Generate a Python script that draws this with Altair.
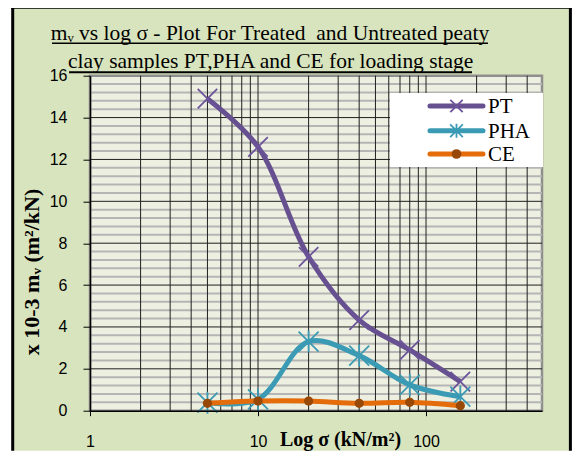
import altair as alt
import pandas as pd

# ---- data ----
stress = [5, 10, 20, 40, 80, 160]
pt_vals = [14.9, 12.6, 7.35, 4.33, 2.9, 1.39]
pha_vals = [0.38, 0.54, 3.3, 2.63, 1.23, 0.67]
ce_vals = [0.35, 0.46, 0.46, 0.35, 0.40, 0.24]

series_names = ["PT", "PHA", "CE"]
line_colors = ["#67508f", "#3b9ab4", "#e46c0a"]
marker_colors = ["#6b549a", "#3b9ab4", "#984807"]
marker_shapes = ["M-1,-1L1,1M-1,1L1,-1",
                 "M-1,-1L1,1M-1,1L1,-1M0,-1.1L0,1.1",
                 "circle"]
marker_sizes = [380, 400, 85]
marker_filled = [False, False, True]

x_ticks = [1, 10, 100]
y_ticks = [0, 2, 4, 6, 8, 10, 12, 14, 16]
x_grid = [2, 3, 4, 5, 6, 7, 8, 9, 10, 20, 30, 40, 50, 60, 70, 80, 90, 100, 200, 300, 400]
y_major_grid = [2, 4, 6, 8, 10, 12, 14]
y_minor_grid = [0.4, 0.8, 1.2, 1.6, 2.4, 2.8, 3.2, 3.6, 4.4, 4.8, 5.2, 5.6, 6.4, 6.8, 7.2, 7.6,
                8.4, 8.8, 9.2, 9.6, 10.4, 10.8, 11.2, 11.6, 12.4, 12.8, 13.2, 13.6,
                14.4, 14.8, 15.2, 15.6]

title_line1 = "mᵥ vs log σ - Plot For Treated\u00a0 and Untreated peaty"
title_line2 = "clay samples PT,PHA and CE for loading stage"
x_title = "Log σ (kN/m²)"
y_title = "x 10-3 mᵥ (m²/kN)"

W, H = 452, 335
PAD = {"left": 82, "top": 67.7, "right": 30, "bottom": 40}
GREEN = "#d8e4bd"
PLOT_BG = "#edf0e1"

xs = alt.Scale(type="log", domain=[1, 490], nice=False)
ys = alt.Scale(domain=[0, 16], nice=False)

x_axis = alt.Axis(values=x_ticks, grid=False, domainColor="black", domainWidth=1.5,
                  tickColor="black", tickSize=5, labelFont="Liberation Sans",
                  labelFontSize=16, labelColor="black", labelPadding=18,
                  labelFlush=False, title=None, zindex=2,
                  labelExpr="datum.value == 1 ? '1' : datum.value == 10 ? '10' : '100'")
y_axis = alt.Axis(values=y_ticks, grid=False, domainColor="black", domainWidth=1.5,
                  tickColor="black", tickSize=7, labelFont="Liberation Sans",
                  labelFontSize=16, labelColor="black", labelPadding=16, title=None,
                  zindex=2)

dummy = pd.DataFrame({"a": [0]})

# background frame (fill + left/top/right borders, kept inside the svg)
L, T = -77.3, -68.4
R = W + PAD["right"] - 1.6
B = H + PAD["bottom"]
frame = alt.Chart(dummy).mark_rect(fill=GREEN).encode(
    x=alt.value(L), x2=alt.value(R), y=alt.value(T), y2=alt.value(B)
)
frame_left = alt.Chart(dummy).mark_rule(color="black", strokeWidth=3).encode(
    x=alt.value(L), y=alt.value(T), y2=alt.value(B))
frame_right = alt.Chart(dummy).mark_rule(color="black", strokeWidth=3).encode(
    x=alt.value(R), y=alt.value(T), y2=alt.value(B))
frame_top = alt.Chart(dummy).mark_rule(color="black", strokeWidth=3).encode(
    x=alt.value(L - 1.5), x2=alt.value(R + 1.5), y=alt.value(T))

plot_bg = alt.Chart(dummy).mark_rect(fill=PLOT_BG, stroke="#8f8f8f", strokeWidth=2.5).encode(
    x=alt.value(0), x2=alt.value(W), y=alt.value(0), y2=alt.value(H)
)

minor_h = alt.Chart(pd.DataFrame({"y": y_minor_grid})).mark_rule(
    color="#b5b5b5", strokeWidth=2
).encode(y=alt.Y("y:Q", scale=ys, axis=y_axis))

vert = alt.Chart(pd.DataFrame({"x": x_grid})).mark_rule(
    color="#1e1e1e", strokeWidth=1
).encode(x=alt.X("x:Q", scale=xs, axis=x_axis))

major_h = alt.Chart(pd.DataFrame({"y": y_major_grid})).mark_rule(
    color="#1e1e1e", strokeWidth=1
).encode(y=alt.Y("y:Q", scale=ys, axis=y_axis))

rows = []
for name, vals in zip(series_names, [pt_vals, pha_vals, ce_vals]):
    for s, v in zip(stress, vals):
        rows.append({"stress": s, "mv": v, "series": name})
df = pd.DataFrame(rows)

layers = [frame, frame_left, frame_right, frame_top, plot_bg, minor_h, vert, major_h]

for name, lc, mc, shp, sz, filled in zip(series_names, line_colors, marker_colors,
                                         marker_shapes, marker_sizes, marker_filled):
    sub = df[df.series == name]
    line = alt.Chart(sub).mark_line(color=lc, strokeWidth=5, interpolate="catmull-rom").encode(
        x=alt.X("stress:Q", scale=xs, axis=x_axis),
        y=alt.Y("mv:Q", scale=ys, axis=y_axis),
    )
    if filled:
        pts = alt.Chart(sub).mark_point(shape=shp, size=sz, filled=True, color=mc, opacity=1)
    else:
        pts = alt.Chart(sub).mark_point(shape=shp, size=sz, filled=False, color=mc,
                                        strokeWidth=1.8, opacity=1)
    pts = pts.encode(x=alt.X("stress:Q", scale=xs, axis=x_axis),
                     y=alt.Y("mv:Q", scale=ys, axis=y_axis))
    layers += [line, pts]

# legend (manual, Excel style)
legend_box = alt.Chart(dummy).mark_rect(fill="white").encode(
    x=alt.value(300), x2=alt.value(453), y=alt.value(17.3), y2=alt.value(91.3)
)
layers.append(legend_box)
row_y = [30.3, 55, 78.3]
for name, lc, mc, shp, sz, filled, ry in zip(series_names, line_colors, marker_colors,
                                             marker_shapes, marker_sizes, marker_filled, row_y):
    layers.append(alt.Chart(dummy).mark_rule(color=lc, strokeWidth=5, strokeCap="round").encode(
        x=alt.value(340), x2=alt.value(393), y=alt.value(ry)))
    if filled:
        m = alt.Chart(dummy).mark_point(shape=shp, size=sz * 1.1, filled=True, color=mc, opacity=1)
    else:
        m = alt.Chart(dummy).mark_point(shape=shp, size=sz * 0.4, filled=False, color=mc,
                                        strokeWidth=1.8, opacity=1)
    layers.append(m.encode(x=alt.value(366.5), y=alt.value(ry)))
    layers.append(alt.Chart(dummy).mark_text(text=name, font="Liberation Serif", fontSize=21,
                                             align="left", baseline="middle", color="black").encode(
        x=alt.value(398), y=alt.value(ry + 1)))

# titles
layers.append(alt.Chart(dummy).mark_text(text=title_line1, font="Liberation Serif", fontSize=21.5,
                                         align="center", baseline="alphabetic", color="black").encode(
    x=alt.value(180), y=alt.value(-35.7)))
layers.append(alt.Chart(dummy).mark_text(text=title_line2, font="Liberation Serif", fontSize=21.5,
                                         align="center", baseline="alphabetic", color="black").encode(
    x=alt.value(180.7), y=alt.value(-8)))
layers.append(alt.Chart(dummy).mark_rule(color="black", strokeWidth=1.5).encode(
    x=alt.value(-38), x2=alt.value(398), y=alt.value(-32.4)))
layers.append(alt.Chart(dummy).mark_rule(color="black", strokeWidth=2).encode(
    x=alt.value(-21), x2=alt.value(382), y=alt.value(-3.4)))

layers.append(alt.Chart(dummy).mark_text(text=x_title, font="Liberation Serif", fontSize=20,
                                         fontWeight="bold", align="center", baseline="middle",
                                         color="black").encode(
    x=alt.value(250.5), y=alt.value(364.5)))
layers.append(alt.Chart(dummy).mark_text(text=y_title, font="Liberation Serif", fontSize=22,
                                         fontWeight="bold", align="center", baseline="middle",
                                         angle=270, color="black").encode(
    x=alt.value(-58), y=alt.value(196.3)))

chart = alt.layer(*layers).properties(
    width=W, height=H,
    autosize=alt.AutoSizeParams(type="none"),
    padding=PAD,
).configure_view(stroke=None).configure(background="white")

chart.save("out.html", embed_options={"renderer": "svg", "actions": False})
